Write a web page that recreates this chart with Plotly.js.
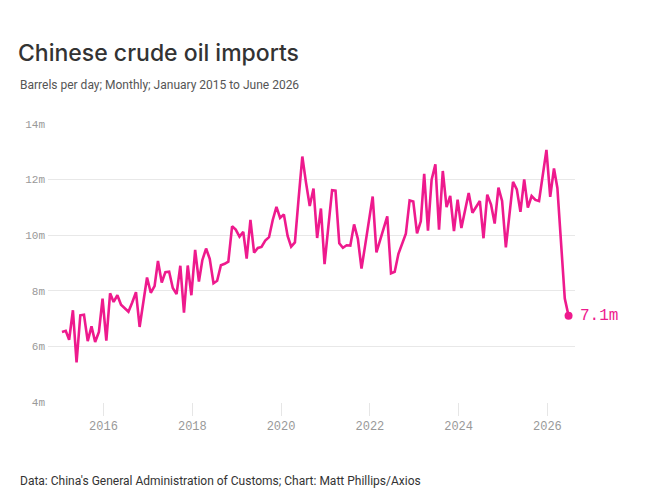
<!DOCTYPE html>
<html>
<head>
<meta charset="utf-8">
<script src="https://cdn.plot.ly/plotly-3.0.1.min.js"></script>
<style>
  html, body { margin: 0; padding: 0; background: #ffffff; }
  #chart { width: 649px; height: 504px; }
</style>
</head>
<body>
<div id="chart"></div>
<script>
// Monthly Chinese crude oil imports, million barrels per day
const v2015 = [6.52, 6.56, 6.24, 7.30, 5.42, 7.12, 7.14, 6.19, 6.72, 6.16, 6.52, 7.72];
const v2016 = [6.21, 7.91, 7.60, 7.84, 7.50, 7.38, 7.25, 7.58, 7.95, 6.70, 7.60, 8.48];
const v2017 = [7.93, 8.17, 9.07, 8.30, 8.67, 8.69, 8.10, 7.88, 8.90, 7.21, 8.91, 7.84];
const v2018 = [9.47, 8.33, 9.10, 9.52, 9.15, 8.27, 8.36, 8.92, 8.97, 9.05, 10.32, 10.20];
const v2019 = [9.95, 10.12, 9.16, 10.55, 9.37, 9.54, 9.58, 9.81, 9.93, 10.54, 11.02, 10.62];
const v2020 = [10.75, 9.97, 9.59, 9.74, 11.30, 12.83, 11.90, 11.05, 11.68, 9.90, 10.96, 8.96];
const v2021 = [10.30, 11.62, 11.60, 9.71, 9.55, 9.64, 9.63, 10.39, 9.87, 8.80, 9.66, 10.53];
const v2022 = [11.39, 9.38, 9.80, 10.25, 10.68, 8.63, 8.68, 9.33, 9.69, 10.05, 11.25, 11.21];
const v2023 = [10.07, 10.50, 12.21, 10.16, 12.00, 12.55, 10.20, 12.31, 11.01, 11.41, 10.15, 11.28];
const v2024 = [10.26, 10.90, 11.52, 10.81, 11.00, 11.23, 9.89, 11.46, 11.10, 10.42, 11.71, 11.23];
const v2025 = [9.56, 10.90, 11.92, 11.65, 10.84, 12.01, 10.99, 11.41, 11.27, 11.23, 12.25, 13.07];
const v2026 = [11.38, 12.40, 11.70, 9.70, 7.72, 7.10];

const years = [2015, 2016, 2017, 2018, 2019, 2020, 2021, 2022, 2023, 2024, 2025, 2026];
const yearValues = [v2015, v2016, v2017, v2018, v2019, v2020, v2021, v2022, v2023, v2024, v2025, v2026];

const yTickVals = [4, 6, 8, 10, 12, 14];
const yTickText = ['4m', '6m', '8m', '10m', '12m', '14m'];
const xTickVals = ['2016-01-01', '2018-01-01', '2020-01-01', '2022-01-01', '2024-01-01', '2026-01-01'];
const xTickText = ['2016', '2018', '2020', '2022', '2024', '2026'];

// Build monthly series
const dates = [];
const values = [];
years.forEach((yr, k) => {
  yearValues[k].forEach((val, m) => {
    const mm = String(m + 1).padStart(2, '0');
    dates.push(yr + '-' + mm + '-24');
    values.push(val);
  });
});
const lastDate = dates[dates.length - 1];
const lastVal = values[values.length - 1];

const PINK = '#ee1a8d';
const MONO = '"Liberation Mono", "DejaVu Sans Mono", monospace';
const SANS = 'Inter, "Noto Sans", "Liberation Sans", sans-serif';
const SANS2 = 'Roboto, Inter, "Liberation Sans", sans-serif';

const traces = [
  {
    x: dates, y: values, type: 'scatter', mode: 'lines',
    line: { color: PINK, width: 2.6 },
    hoverinfo: 'skip', showlegend: false
  },
  {
    x: [lastDate], y: [lastVal], type: 'scatter', mode: 'markers',
    marker: { color: PINK, size: 8 },
    hoverinfo: 'skip', showlegend: false, cliponaxis: false
  }
];

const W = 649, H = 504;
const mL = 48, mR = 74, mT = 124, mB = 102;
const plotW = W - mL - mR, plotH = H - mT - mB;
const px = (x) => (x - mL) / plotW;
const py = (y) => (H - mB - y) / plotH;

const layout = {
  width: W, height: H,
  margin: { l: mL, r: mR, t: mT, b: mB, pad: 0 },
  paper_bgcolor: '#ffffff', plot_bgcolor: '#ffffff',
  title: {
    text: 'Chinese crude oil imports',
    xref: 'container', yref: 'container',
    x: 18 / W, xanchor: 'left',
    y: 1 - 53 / H, yanchor: 'middle',
    font: { family: SANS, size: 23, weight: 500, color: '#333333' }
  },
  xaxis: {
    type: 'date',
    range: ['2014-10-01', '2026-08-16'],
    tickvals: xTickVals, ticktext: xTickText,
    showgrid: false, zeroline: false, showline: false,
    ticks: 'outside', ticklen: 13, tickwidth: 1, tickcolor: '#e6e6e6',
    tickfont: { family: MONO, size: 12, color: '#999999' },
    fixedrange: true
  },
  yaxis: {
    range: [4, 14],
    tickvals: yTickVals, ticktext: yTickText,
    showgrid: true, gridcolor: '#e8e8e8', gridwidth: 1,
    zeroline: false, showline: false, ticks: '',
    ticklabelstandoff: 2,
    tickfont: { family: MONO, size: 11, color: '#999999' },
    fixedrange: true
  },
  annotations: [
    {
      text: 'Barrels per day; Monthly; January 2015 to June 2026',
      xref: 'paper', yref: 'paper', x: px(18), y: py(85),
      xanchor: 'left', yanchor: 'middle', showarrow: false,
      font: { family: SANS2, size: 12, color: '#555555' }
    },
    {
      text: "Data: China's General Administration of Customs; Chart: Matt Phillips/Axios",
      xref: 'paper', yref: 'paper', x: px(18), y: py(481),
      xanchor: 'left', yanchor: 'middle', showarrow: false,
      font: { family: SANS2, size: 12, color: '#333333' }
    },
    {
      text: lastVal.toFixed(1) + 'm',
      xref: 'x', yref: 'y', x: lastDate, y: lastVal,
      xanchor: 'left', yanchor: 'middle', xshift: 9, showarrow: false,
      font: { family: MONO, size: 16, color: PINK }
    }
  ]
};

Plotly.newPlot('chart', traces, layout, { displayModeBar: false, staticPlot: true });
</script>
</body>
</html>
